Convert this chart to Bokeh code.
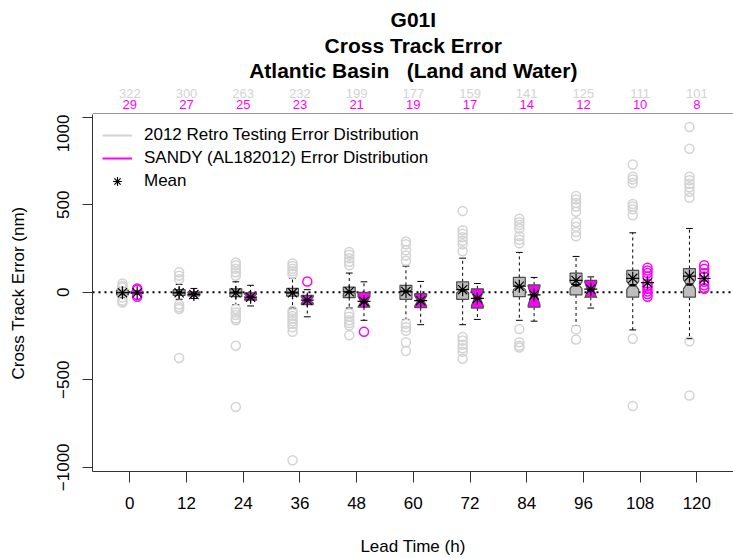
import math
from bokeh.plotting import figure
from bokeh.layouts import column
from bokeh.models import (Range1d, FixedTicker, Span, Legend, LegendItem)
from bokeh.core.properties import value
from bokeh.embed import file_html
from bokeh.resources import INLINE

# ---------------- data ----------------
lead_times = [0, 12, 24, 36, 48, 60, 72, 84, 96, 108, 120]
retro_n = [322, 300, 263, 232, 199, 177, 159, 141, 125, 111, 101]
sandy_n = [29, 27, 25, 23, 21, 19, 17, 14, 12, 10, 8]

retro_q1 = [-15, -18, -25, -22, -30, -40, -40, -25, -15, -28, -28]
retro_med = [-1, 0, 0, 0, 0, 5, 10, 30, 40, 40, 45]
retro_q3 = [12, 15, 20, 22, 30, 40, 60, 85, 110, 125, 135]
retro_lo = [-30, -40, -70, -90, -90, -155, -185, -160, -190, -215, -265]
retro_hi = [28, 45, 60, 80, 110, 150, 195, 228, 205, 340, 365]
retro_mean = [-2, -3, -3, -3, 3, 5, 15, 35, 68, 80, 92]
retro_out = [
    [50, 38, 28, -30, -48, -58],
    [115, 95, 75, -70, -85, -95, -375],
    [170, 155, 135, 115, 95, -95, -115, -130, -150, -160, -305, -655],
    [165, 150, 135, 120, 105, -105, -120, -135, -150, -165, -180, -200, -225, -960],
    [230, 215, 195, 175, 155, -120, -140, -160, -175, -190, -245],
    [290, 275, 240, 210, 180, -180, -200, -220, -285, -335],
    [465, 355, 335, 315, 295, 275, 235, -255, -275, -300, -320, -340, -380],
    [420, 400, 385, 365, 320, 300, 280, -210, -285, -305, -315],
    [550, 530, 510, 490, 460, 400, 375, 345, 320, -212, -270],
    [730, 660, 645, 625, 505, 490, 475, 440, -265, -650],
    [945, 820, 660, 640, 620, 600, 575, 540, -280, -590],
]

sandy_q1 = [-6, -20, -45, -70, -85, -88, -90, -85, -28, None, None]
sandy_med = [-2, -10, -25, -45, -55, -50, -35, -20, 12, None, None]
sandy_q3 = [5, 2, -3, -18, 0, -8, 20, 42, 68, None, None]
sandy_lo = [-10, -35, -78, -140, -160, -185, -155, -165, -90, None, None]
sandy_hi = [10, 22, 40, 15, 60, 62, 50, 85, 88, None, None]
sandy_mean = [-3, -12, -28, -45, -52, -48, -35, -15, 18, 55, 79]
sandy_out = [
    [22, 14, -16, -25],
    [], [], [62], [-225], [], [], [], [],
    [140, 125, 110, 90, 50, 35, 20, 5, -10, -25],
    [155, 135, 110, 90, 60, 40, 25, 20],
]

title_lines = ["G01I", "Cross Track Error", "Atlantic Basin\u00a0\u00a0\u00a0(Land and Water)"]
legend_labels = ["2012 Retro Testing Error Distribution",
                 "SANDY (AL182012) Error Distribution", "Mean"]

# ---------------- layout ----------------
W, H = 733, 558
TOP_H = 114                 # header strip (titles + counts)
MAIN_H = H - TOP_H
FL = 92
FB_GLOBAL = 472
Y0, Y1 = -1024, 1016
X0, X1 = 0.342, 11.647
FONT = "Liberation Sans"
GREY_BOX = "#BEBEBE"
GREY_PT = "#D3D3D3"
MAG = "#FF00FF"
EDGE = "#4D4D4D"
AXC = "#333333"

p = figure(width=W, height=MAIN_H, x_range=Range1d(X0, X1), y_range=Range1d(Y0, Y1),
           output_backend="svg", toolbar_location=None, title=None,
           min_border_left=FL, min_border_right=0, min_border_top=0,
           min_border_bottom=H - FB_GLOBAL)
p.outline_line_color = None
p.xgrid.visible = False
p.ygrid.visible = False

positions = [i + 1 for i in range(len(lead_times))]
OFF = 0.13
BW = 0.105
SW = 0.06

p.add_layout(Span(location=0, dimension="width", line_color="black", line_width=2,
                  line_dash="2 4", level="underlay"))


def draw_group(xs, q1s, meds, q3s, los, his, outs, ns, fill, ptcol):
    polys_x, polys_y = [], []
    wx0, wx1, wy0, wy1 = [], [], [], []
    sx0, sx1, sy = [], [], []
    mx0, mx1, my = [], [], []
    for xc, q1, med, q3, lo, hi, n in zip(xs, q1s, meds, q3s, los, his, ns):
        if q1 is None:
            continue
        half = 1.58 * (q3 - q1) / math.sqrt(n)
        clo, chi = med - half, med + half
        polys_x.append([xc - BW, xc + BW, xc + BW, xc + BW * 0.5, xc + BW, xc + BW,
                        xc - BW, xc - BW, xc - BW * 0.5, xc - BW])
        polys_y.append([q1, q1, clo, med, chi, q3, q3, chi, med, clo])
        wx0 += [xc, xc]; wx1 += [xc, xc]; wy0 += [q3, q1]; wy1 += [hi, lo]
        sx0 += [xc - SW, xc - SW]; sx1 += [xc + SW, xc + SW]; sy += [hi, lo]
        mx0.append(xc - BW * 0.5); mx1.append(xc + BW * 0.5); my.append(med)
    p.segment(x0=wx0, x1=wx1, y0=wy0, y1=wy1, line_color="black", line_width=1,
              line_dash="3 3")
    p.segment(x0=sx0, x1=sx1, y0=sy, y1=sy, line_color="black", line_width=1)
    p.patches(polys_x, polys_y, fill_color=fill, line_color=EDGE, line_width=1.2)
    p.segment(x0=mx0, x1=mx1, y0=my, y1=my, line_color="black", line_width=2.5)
    ox, oy = [], []
    for xc, lst in zip(xs, outs):
        ox += [xc] * len(lst); oy += lst
    p.scatter(ox, oy, marker="circle", size=9, fill_color=None, line_color=ptcol,
              line_width=1.5)


retro_x = [x - OFF for x in positions]
sandy_x = [x + OFF for x in positions]
draw_group(retro_x, retro_q1, retro_med, retro_q3, retro_lo, retro_hi,
           retro_out, retro_n, GREY_BOX, GREY_PT)
draw_group(sandy_x, sandy_q1, sandy_med, sandy_q3, sandy_lo, sandy_hi,
           sandy_out, sandy_n, MAG, MAG)
p.scatter(retro_x + sandy_x, retro_mean + sandy_mean, marker="asterisk", size=13,
          line_color="black", line_width=1.2)

# legend (proxy renderers kept outside the visible range)
far = Y1 * 10
r1 = p.line([X0, X1], [far, far], line_color=GREY_PT, line_width=2)
r2 = p.line([X0, X1], [far, far], line_color=MAG, line_width=2)
r3 = p.scatter([X0], [far], marker="asterisk", size=13, line_color="black",
               line_width=1.2)
leg = Legend(items=[LegendItem(label=legend_labels[0], renderers=[r1]),
                    LegendItem(label=legend_labels[1], renderers=[r2]),
                    LegendItem(label=legend_labels[2], renderers=[r3])],
             location="top_left", border_line_alpha=0, background_fill_alpha=0,
             label_text_font_size="17px", label_text_font=FONT, label_text_color="black",
             glyph_width=30, glyph_height=22, label_height=22, spacing=1, padding=10,
             margin=0, label_standoff=12)
p.add_layout(leg)

# axes
xa = p.xaxis[0]
xa.ticker = FixedTicker(ticks=positions, minor_ticks=[])
xa.major_label_overrides = {pos: str(t) for pos, t in zip(positions, lead_times)}
xa.major_tick_out = 11
xa.major_tick_in = 0
xa.minor_tick_out = 0
xa.major_label_standoff = 14
xa.major_label_text_font_size = "17px"
xa.major_label_text_font = FONT
xa.major_label_text_color = "black"
xa.axis_label = "Lead Time (h)"
xa.axis_label_text_font_size = "17px"
xa.axis_label_text_font = FONT
xa.axis_label_text_font_style = "normal"
xa.axis_label_text_color = "black"
xa.axis_label_standoff = 25
xa.axis_line_color = AXC
xa.major_tick_line_color = AXC

ya = p.yaxis[0]
ya.ticker = FixedTicker(ticks=[-1000, -500, 0, 500, 1000], minor_ticks=[])
ya.major_label_overrides = {-1000: "\u22121000", -500: "\u2212500", 0: "0", 500: "500",
                            1000: "1000"}
ya.major_label_orientation = "vertical"
ya.major_tick_out = 10
ya.major_tick_in = 0
ya.minor_tick_out = 0
ya.major_label_standoff = 13
ya.major_label_text_font_size = "17px"
ya.major_label_text_font = FONT
ya.major_label_text_color = "black"
ya.axis_label = "Cross Track Error (nm)"
ya.axis_label_text_font_size = "17px"
ya.axis_label_text_font = FONT
ya.axis_label_text_font_style = "normal"
ya.axis_label_text_color = "black"
ya.axis_label_standoff = 27
ya.axis_line_color = AXC
ya.major_tick_line_color = AXC

# ---------------- header strip: titles and sample counts ----------------
hdr = figure(width=W, height=TOP_H, x_range=p.x_range, y_range=Range1d(TOP_H, 0),
             output_backend="svg", toolbar_location=None, title=None,
             x_axis_type=None, y_axis_type=None,
             min_border_left=FL, min_border_right=0, min_border_top=0, min_border_bottom=0)
hdr.outline_line_color = None
hdr.grid.visible = False
# top edge of the plot box
hdr.add_layout(Span(location=TOP_H - 0.5, dimension="width", line_color=AXC, line_width=1))

cx = sum(positions) / len(positions)
hdr.text(x=[cx] * 3, y=[19, 45, 70], text=title_lines, text_align="center",
         text_baseline="middle", text_font=value(FONT), text_font_style="bold",
         text_font_size="21px", text_color="black")
hdr.text(x=positions, y=[93] * len(positions), text=[str(n) for n in retro_n],
         text_align="center", text_baseline="middle", text_font=value(FONT),
         text_font_size="13px", text_color=GREY_PT)
hdr.text(x=positions, y=[104] * len(positions), text=[str(n) for n in sandy_n],
         text_align="center", text_baseline="middle", text_font=value(FONT),
         text_font_size="13px", text_color=MAG)

layout = column(hdr, p, spacing=0)
open("out.html", "w").write(file_html(layout, INLINE))
